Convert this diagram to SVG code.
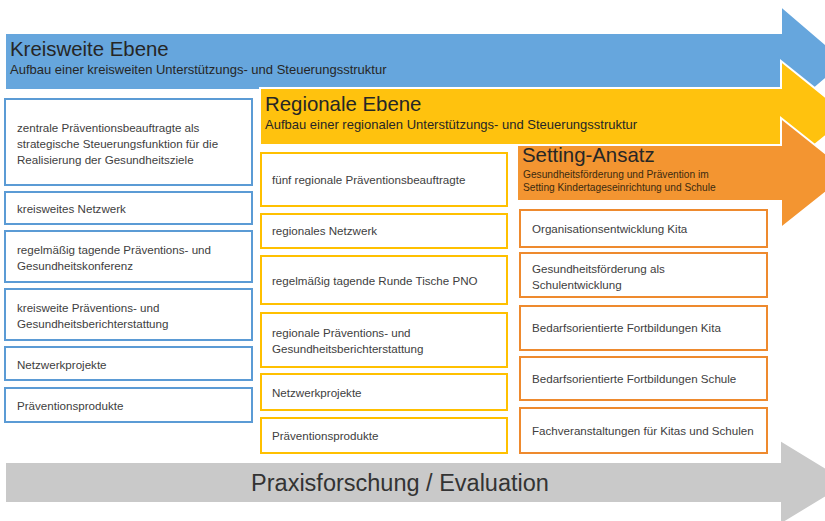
<svg xmlns="http://www.w3.org/2000/svg" width="825" height="521" viewBox="0 0 825 521">
<style>
.bg{fill:#ffffff}
.arrow{stroke:#ffffff;stroke-width:2}
.blue{fill:#66a6dd}
.yellow{fill:#ffc20e}
.orange{fill:#f39531}
.gray{fill:#c9c9c9}
.box{fill:#ffffff;stroke-width:2}
.bb{stroke:#5b9bd5}
.yb{stroke:#ffc000}
.ob{stroke:#ee8a2e}
.t{font-family:"Liberation Sans",Arial,sans-serif;fill:#404040;font-size:11.6px}
.title{font-family:"Liberation Sans",Arial,sans-serif;fill:#262626;font-size:20.4px}
.sub{font-family:"Liberation Sans",Arial,sans-serif;fill:#262626;font-size:13px}
.sub2{font-family:"Liberation Sans",Arial,sans-serif;fill:#3a2a10;font-size:10.2px}
.big{font-family:"Liberation Sans",Arial,sans-serif;fill:#333333;font-size:23.5px}
</style>
<rect class="bg" x="0" y="0" width="825" height="521"/>
<g id="kreisweite-ebene">
<path class="arrow blue" d="M5,33 H781 V6 L846,61.5 L781,117 V90 H5 Z"/>
<text class="title" x="10" y="56">Kreisweite Ebene</text>
<text class="sub" x="10" y="74">Aufbau einer kreisweiten Unterstützungs- und Steuerungsstruktur</text>
</g>
<g id="regionale-ebene">
<path class="arrow yellow" d="M260,88 H781 V61 L850,116.5 L781,172 V145 H260 Z"/>
<text class="title" x="265" y="111">Regionale Ebene</text>
<text class="sub" x="265" y="129">Aufbau einer regionalen Unterstützungs- und Steuerungsstruktur</text>
</g>
<g id="setting-ansatz">
<path class="arrow orange" d="M517,145 H781 V118 L850,173 L781,228 V201 H517 Z"/>
<text class="title" x="522" y="162">Setting-Ansatz</text>
<text class="sub2" x="523" y="178">Gesundheitsförderung und Prävention im</text>
<text class="sub2" x="523" y="191">Setting Kindertageseinrichtung und Schule</text>
</g>
<g id="praxisforschung">
<path class="arrow gray" d="M5,462 H780 V440 L850,482.5 L780,525 V503 H5 Z"/>
<text class="big" x="400" y="491" text-anchor="middle">Praxisforschung / Evaluation</text>
</g>
<g id="k1"><rect class="box bb" x="5" y="99" width="247" height="86"/>
<text class="t" x="17" y="132">zentrale Präventionsbeauftragte als</text>
<text class="t" x="17" y="148">strategische Steuerungsfunktion für die</text>
<text class="t" x="17" y="164">Realisierung der Gesundheitsziele</text></g>
<g id="k2"><rect class="box bb" x="5" y="192" width="247" height="32"/>
<text class="t" x="17" y="213">kreisweites Netzwerk</text></g>
<g id="k3"><rect class="box bb" x="5" y="231" width="247" height="51"/>
<text class="t" x="17" y="254">regelmäßig tagende Präventions- und</text>
<text class="t" x="17" y="270">Gesundheitskonferenz</text></g>
<g id="k4"><rect class="box bb" x="5" y="289" width="247" height="51"/>
<text class="t" x="17" y="312">kreisweite Präventions- und</text>
<text class="t" x="17" y="328">Gesundheitsberichterstattung</text></g>
<g id="k5"><rect class="box bb" x="5" y="347" width="247" height="33"/>
<text class="t" x="17" y="369">Netzwerkprojekte</text></g>
<g id="k6"><rect class="box bb" x="5" y="388" width="247" height="34"/>
<text class="t" x="17" y="410">Präventionsprodukte</text></g>
<g id="r1"><rect class="box yb" x="261" y="153" width="246" height="53"/>
<text class="t" x="272" y="184">fünf regionale Präventionsbeauftragte</text></g>
<g id="r2"><rect class="box yb" x="261" y="214" width="246" height="34"/>
<text class="t" x="272" y="235">regionales Netzwerk</text></g>
<g id="r3"><rect class="box yb" x="261" y="256" width="246" height="48"/>
<text class="t" x="272" y="285">regelmäßig tagende Runde Tische PNO</text></g>
<g id="r4"><rect class="box yb" x="261" y="313" width="246" height="54"/>
<text class="t" x="272" y="337">regionale Präventions- und</text>
<text class="t" x="272" y="353">Gesundheitsberichterstattung</text></g>
<g id="r5"><rect class="box yb" x="261" y="374" width="246" height="36"/>
<text class="t" x="272" y="397">Netzwerkprojekte</text></g>
<g id="r6"><rect class="box yb" x="261" y="418" width="246" height="35"/>
<text class="t" x="272" y="440">Präventionsprodukte</text></g>
<g id="s1"><rect class="box ob" x="520" y="210" width="247" height="37"/>
<text class="t" x="532" y="233">Organisationsentwicklung Kita</text></g>
<g id="s2"><rect class="box ob" x="520" y="253" width="247" height="44"/>
<text class="t" x="532" y="273">Gesundheitsförderung als</text>
<text class="t" x="532" y="289">Schulentwicklung</text></g>
<g id="s3"><rect class="box ob" x="520" y="306" width="247" height="44"/>
<text class="t" x="532" y="332">Bedarfsorientierte Fortbildungen Kita</text></g>
<g id="s4"><rect class="box ob" x="520" y="357" width="247" height="43"/>
<text class="t" x="532" y="383">Bedarfsorientierte Fortbildungen Schule</text></g>
<g id="s5"><rect class="box ob" x="520" y="408" width="247" height="45"/>
<text class="t" x="532" y="435">Fachveranstaltungen für Kitas und Schulen</text></g>
<g id="connectors"></g>
</svg>
